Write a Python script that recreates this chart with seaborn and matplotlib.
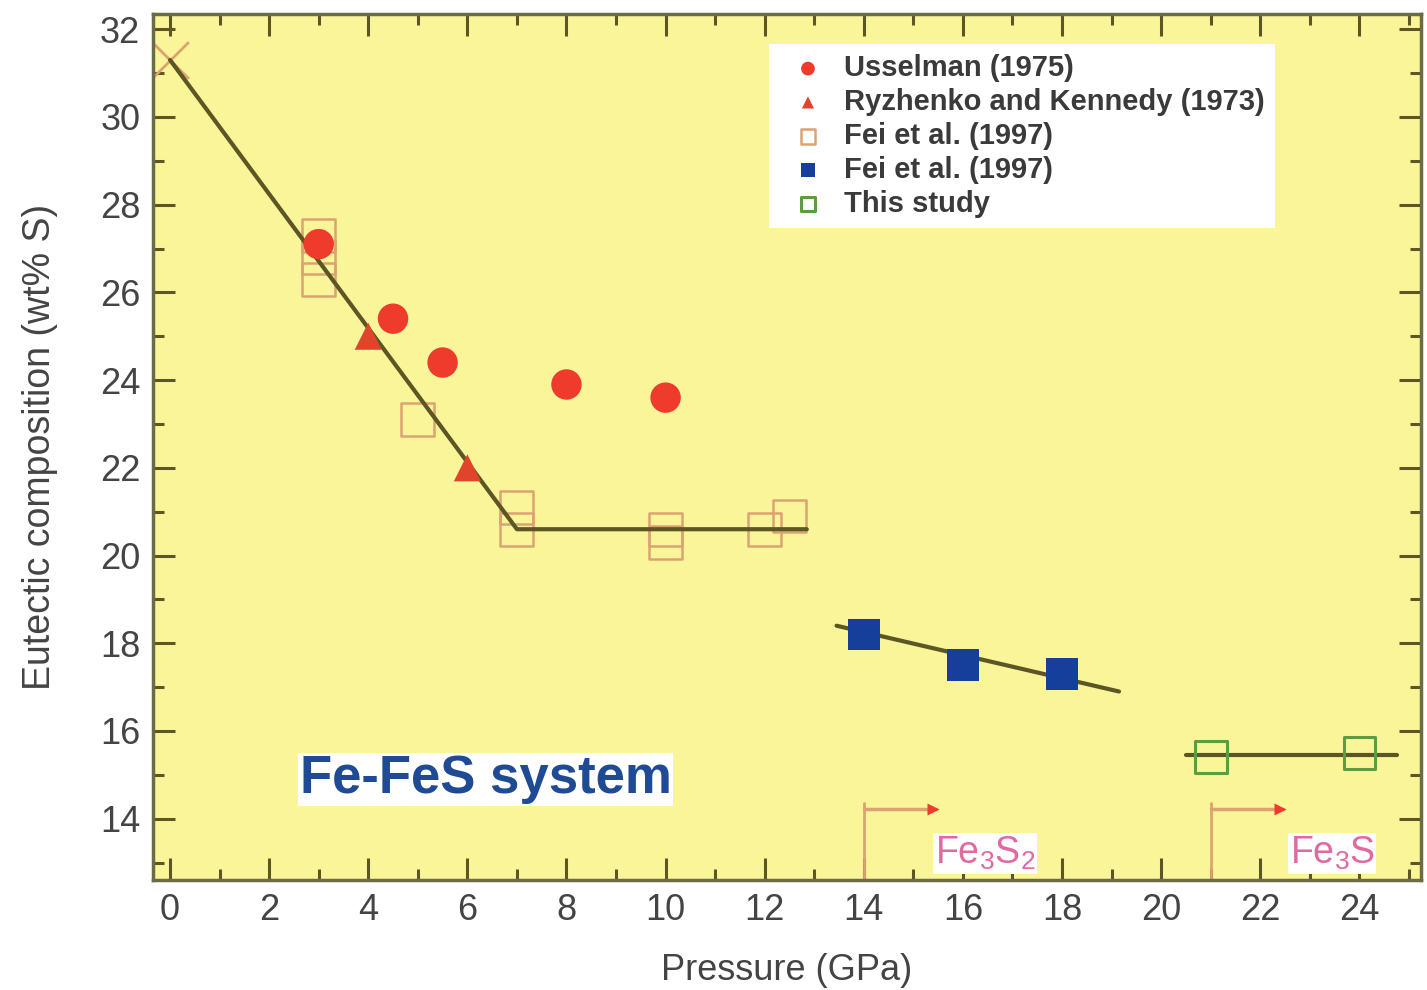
import numpy as np
import pandas as pd
import matplotlib.pyplot as plt
import seaborn as sns
from matplotlib.ticker import MultipleLocator

# --- data ---
usselman_p = [3, 4.5, 5.5, 8, 10]
usselman_s = [27.1, 25.4, 24.4, 23.9, 23.6]

ryzhenko_p = [4, 6]
ryzhenko_s = [25.0, 22.0]

fei_open_p = [3, 3, 3, 5, 7, 7, 10, 10, 12, 12.5]
fei_open_s = [27.3, 26.8, 26.3, 23.1, 21.1, 20.6, 20.6, 20.3, 20.6, 20.9]

fei_solid_p = [14, 16, 18]
fei_solid_s = [18.2, 17.5, 17.3]

this_p = [21, 24]
this_s = [15.4, 15.5]

fes_p = [0]
fes_s = [31.3]

# fitted trend lines
fit1_p = [0, 7, 12.85]
fit1_s = [31.3, 20.6, 20.6]
fit2_p = [13.45, 19.15]
fit2_s = [18.4, 16.9]
fit3_p = [20.5, 24.75]
fit3_s = [15.45, 15.45]

# phase boundaries
phase_p = [14, 21]
phase_labels = ['Fe$_3$S$_2$', 'Fe$_3$S']

sns.set_theme(style='ticks')
plt.rcParams['font.family'] = ['Liberation Sans', 'DejaVu Sans']
plt.rcParams['mathtext.fontset'] = 'custom'
plt.rcParams['mathtext.rm'] = 'Liberation Sans'
plt.rcParams['mathtext.it'] = 'Liberation Sans'

bg = '#fbf59a'
olive = '#5c5624'
red = '#ee3b2c'
tan = '#dca272'
blue = '#163f9c'
green = '#5c9c42'
pink = '#e06aa0'

fig = plt.figure(figsize=(14.27, 9.9), dpi=100)
ax = fig.add_axes([0.107, 0.111, 0.889, 0.875])
ax.set_facecolor(bg)

for px, py in [(fit1_p, fit1_s), (fit2_p, fit2_s), (fit3_p, fit3_s)]:
    sns.lineplot(x=px, y=py, ax=ax, color=olive, lw=3, sort=False, zorder=3)

sns.scatterplot(x=fes_p, y=fes_s, ax=ax, marker='x', s=700, color=tan, linewidth=2, zorder=2)
sns.scatterplot(x=fei_open_p, y=fei_open_s, ax=ax, marker='s', s=560, facecolor='none',
                edgecolor=tan, linewidth=1.8, label='Fei et al. (1997)', zorder=2)
sns.scatterplot(x=usselman_p, y=usselman_s, ax=ax, marker='o', s=480, color=red,
                edgecolor='none', label='Usselman (1975)', zorder=4)
sns.scatterplot(x=ryzhenko_p, y=ryzhenko_s, ax=ax, marker='^', s=380, color='#e0452c',
                edgecolor='none', label='Ryzhenko and Kennedy (1973)', zorder=4)
sns.scatterplot(x=fei_solid_p, y=fei_solid_s, ax=ax, marker='s', s=520, color=blue,
                edgecolor='none', label='Fei et al. (1997) ', zorder=4)
sns.scatterplot(x=this_p, y=this_s, ax=ax, marker='s', s=520, facecolor='none',
                edgecolor=green, linewidth=2.2, label='This study', zorder=4)

# phase boundary arrows
for p, lab in zip(phase_p, phase_labels):
    ax.plot([p, p], [12.6, 14.35], color=tan, lw=2, zorder=2)
    ax.plot([p, p + 1.45], [14.22, 14.22], color=tan, lw=2.5, zorder=2)
    ax.plot([p + 1.4], [14.22], marker='>', ms=9, color=red, mec='none', zorder=3)
    ax.text(p + 2.45, 12.78, lab, color=pink, fontsize=27, ha='center', va='bottom',
            bbox=dict(facecolor='white', edgecolor='none', pad=1), zorder=3)

ax.text(2.62, 14.9, 'Fe-FeS system', color='#1f4a94', fontsize=38, fontweight='bold',
        ha='left', va='center', bbox=dict(facecolor='white', edgecolor='none', pad=1))

ax.set_xlim(-0.35, 25.25)
ax.set_ylim(12.6, 32.35)
ax.xaxis.set_major_locator(MultipleLocator(2))
ax.xaxis.set_minor_locator(MultipleLocator(1))
ax.yaxis.set_major_locator(MultipleLocator(2))
ax.yaxis.set_minor_locator(MultipleLocator(1))
ax.tick_params(which='both', direction='in', top=True, right=True, color=olive, width=2.2,
               labelsize=26, labelcolor='#444444', pad=9)
ax.tick_params(which='major', length=16)
ax.tick_params(which='minor', length=8)
for sp in ax.spines.values():
    sp.set_color('#6b6b48')
    sp.set_linewidth(2.5)

ax.set_xlabel('Pressure (GPa)', fontsize=26, color='#444444', labelpad=18)
ax.set_ylabel('Eutectic composition (wt% S)', fontsize=27, color='#444444', labelpad=30)

handles, labels = ax.get_legend_handles_labels()
order = [labels.index(l) for l in ['Usselman (1975)', 'Ryzhenko and Kennedy (1973)',
                                   'Fei et al. (1997)', 'Fei et al. (1997) ', 'This study']]
leg = ax.legend([handles[i] for i in order], [labels[i].strip() for i in order],
                loc='upper left', bbox_to_anchor=(0.474, 0.982), frameon=True,
                facecolor='white', edgecolor='none', fancybox=False, framealpha=1,
                markerscale=0.45, handletextpad=0.25, labelspacing=0.2, borderpad=0.35,
                prop={'size': 21, 'weight': 'bold'})
for t in leg.get_texts():
    t.set_color('#3a3a3a')

fig.savefig('out.png', dpi=100, facecolor='white')
